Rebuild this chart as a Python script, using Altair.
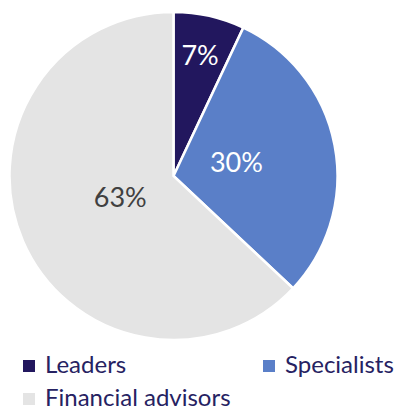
import altair as alt
import pandas as pd

categories = ["Leaders", "Specialists", "Financial advisors"]
values = [7, 30, 63]
labels = ["7%", "30%", "63%"]
order_idx = [0, 1, 2]

colors = ["#22175e", "#5a7fc8", "#e4e4e4"]
label_colors = ["#ffffff", "#ffffff", "#404040"]

df = pd.DataFrame({"cat": categories, "val": values, "lbl": labels, "ord": order_idx})

theta_scale = alt.Scale(domain=[0, 100])
cx = 165.5
cy = 168

arc = alt.Chart(df).mark_arc(radius=164, stroke="white", strokeWidth=2.5).encode(
    x=alt.value(cx),
    y=alt.value(cy),
    theta=alt.Theta("val:Q", stack=True, scale=theta_scale),
    order=alt.Order("ord:Q"),
    color=alt.Color(
        "cat:N",
        scale=alt.Scale(domain=categories, range=colors),
        sort=categories,
        legend=alt.Legend(
            title=None,
            orient="none",
            legendX=9,
            legendY=346,
            padding=0,
            direction="horizontal",
            columns=2,
            columnPadding=26,
            rowPadding=9,
            symbolType="square",
            symbolSize=144,
            symbolStrokeWidth=0,
            labelFont="Lato",
            labelFontSize=24,
            labelColor="#262262",
            labelOffset=4,
            labelLimit=400,
        ),
    ),
)

text = alt.Chart(df).transform_window(
    cum="sum(val)", sort=[alt.SortField("ord")], frame=[None, 0]
).transform_calculate(
    mid="datum.cum - datum.val / 2",
    lr="datum.cat == 'Leaders' ? 122 : (datum.cat == 'Specialists' ? 64 : 58)",
).mark_text(font="Lato", fontSize=27).encode(
    x=alt.value(cx),
    y=alt.value(cy),
    theta=alt.Theta("mid:Q", stack=False, scale=theta_scale),
    radius=alt.Radius("lr:Q", scale=None),
    text="lbl:N",
    color=alt.Color("cat:N", scale=alt.Scale(domain=categories, range=label_colors), legend=None),
)

chart = alt.layer(arc, text).resolve_scale(color="independent").properties(
    width=389, height=403, padding=0, autosize=alt.AutoSizeParams(type="none")
).configure_view(strokeWidth=0)

chart.save("out.html", embed_options={"renderer": "svg", "actions": False})
